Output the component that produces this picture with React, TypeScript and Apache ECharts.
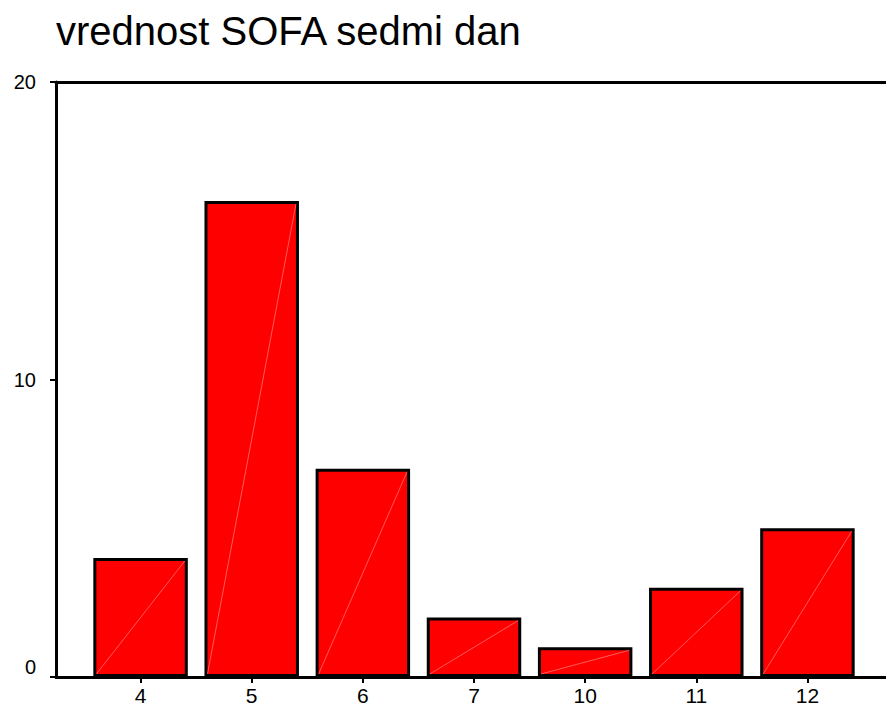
import React, { useEffect, useRef } from "react";
import * as echarts from "echarts";

const categories = ["4", "5", "6", "7", "10", "11", "12"];
const counts = [4, 16, 7, 2, 1, 3, 5];
const yTicks = [0, 10, 20];
const titleText = "vrednost SOFA sedmi dan";

export default function App() {
  const ref = useRef<HTMLDivElement>(null);
  useEffect(() => {
    if (!ref.current) return;
    const chart = echarts.init(ref.current, null, { renderer: "svg" });
    const font = "'Liberation Sans', Arial, sans-serif";
    chart.setOption({
      animation: false,
      backgroundColor: "#ffffff",
      title: {
        text: titleText,
        left: 51,
        top: 6,
        textStyle: { fontFamily: font, fontSize: 40, fontWeight: "normal", color: "#000" },
      },
      grid: [
        { left: 85, right: 23, top: 82, bottom: 31 },
        { left: 56, right: 0, top: 82, bottom: 31 },
      ],
      xAxis: [
        {
          type: "category",
          gridIndex: 0,
          data: categories,
          axisLine: { show: false },
          axisTick: { show: true, alignWithLabel: true, length: 6, lineStyle: { color: "#000", width: 2 } },
          axisLabel: { fontFamily: font, fontSize: 21, color: "#000", margin: 8 },
        },
        {
          type: "value",
          gridIndex: 1,
          position: "bottom",
          min: 0,
          max: 1,
          axisLine: { show: true, onZero: false, lineStyle: { color: "#000", width: 3 } },
          axisTick: { show: false },
          axisLabel: { show: false },
          splitLine: { show: false },
        },
        {
          type: "value",
          gridIndex: 1,
          position: "top",
          min: 0,
          max: 1,
          axisLine: { show: true, onZero: false, lineStyle: { color: "#000", width: 3 } },
          axisTick: { show: false },
          axisLabel: { show: false },
          splitLine: { show: false },
        },
      ],
      yAxis: [
        {
          type: "value",
          gridIndex: 0,
          min: yTicks[0],
          max: yTicks[yTicks.length - 1],
          interval: 10,
          show: false,
        },
        {
          type: "value",
          gridIndex: 1,
          min: yTicks[0],
          max: yTicks[yTicks.length - 1],
          interval: 10,
          axisLine: { show: true, lineStyle: { color: "#000", width: 3 } },
          axisTick: { show: true, length: 6, lineStyle: { color: "#000", width: 2 } },
          axisLabel: {
            fontFamily: font,
            fontSize: 20,
            color: "#000",
            margin: 20,
            verticalAlignMinLabel: "bottom",
          },
          splitLine: { show: false },
        },
      ],
      series: [
        {
          type: "bar",
          xAxisIndex: 0,
          yAxisIndex: 0,
          data: counts,
          barWidth: "85%",
          itemStyle: { color: "#ff0000", borderColor: "#000", borderWidth: 3 },
          z: 2,
        },
        {
          type: "custom",
          xAxisIndex: 0,
          yAxisIndex: 0,
          data: counts.map((v, i) => [i, v]),
          z: 3,
          silent: true,
          renderItem: (params: any, api: any) => {
            const i = api.value(0);
            const v = api.value(1);
            const base = api.coord([i, 0]);
            const top = api.coord([i, v]);
            const bw = api.size([1, 0])[0] * 0.85;
            return {
              type: "line",
              shape: {
                x1: base[0] - bw / 2 + 3,
                y1: base[1] - 3,
                x2: base[0] + bw / 2 - 3,
                y2: top[1] + 3,
              },
              style: { stroke: "rgba(255,190,190,0.8)", lineWidth: 0.6 },
            };
          },
        },
      ],
    });
    return () => chart.dispose();
  }, []);
  return <div ref={ref} style={{ width: 886, height: 708, position: "absolute", left: 0, top: 0 }} />;
}
